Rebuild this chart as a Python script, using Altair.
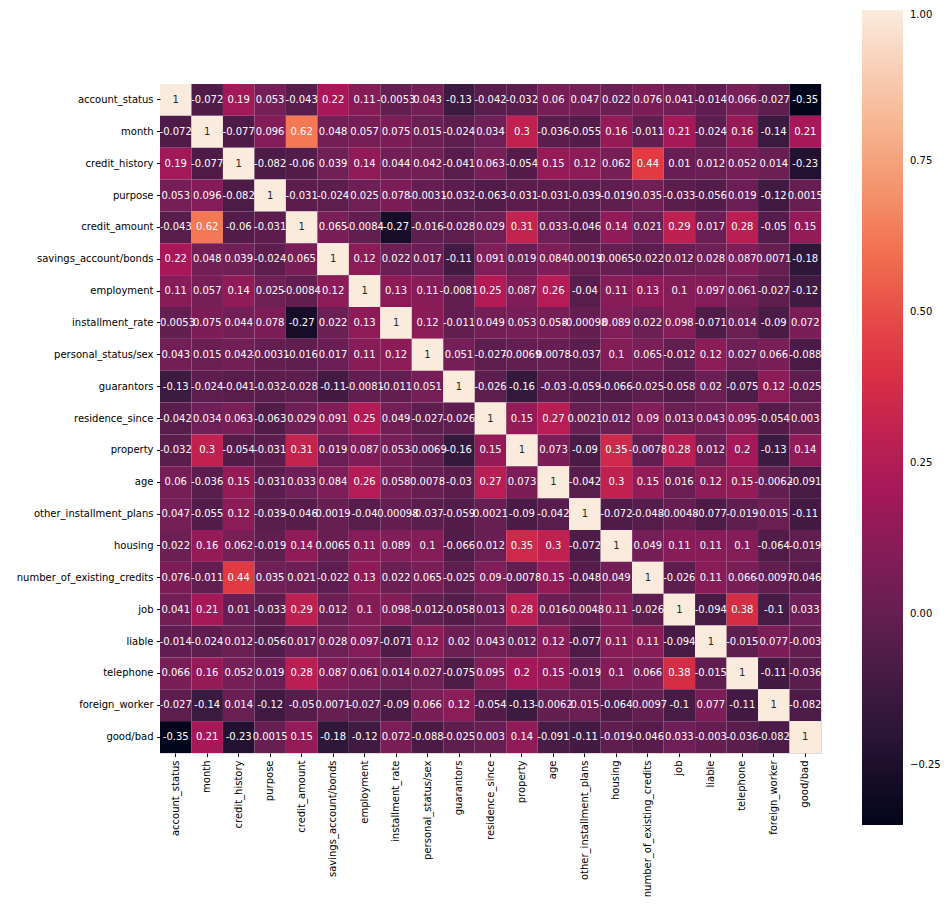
import altair as alt
import pandas as pd

labels = ["account_status", "month", "credit_history", "purpose", "credit_amount",
          "savings_account/bonds", "employment", "installment_rate", "personal_status/sex",
          "guarantors", "residence_since", "property", "age", "other_installment_plans",
          "housing", "number_of_existing_credits", "job", "liable", "telephone",
          "foreign_worker", "good/bad"]

corr = [
    [1, -0.072, 0.19, 0.053, -0.043, 0.22, 0.11, -0.0053, 0.043, -0.13, -0.042, -0.032, 0.06, 0.047, 0.022, 0.076, 0.041, -0.014, 0.066, -0.027, -0.35],
    [-0.072, 1, -0.077, 0.096, 0.62, 0.048, 0.057, 0.075, 0.015, -0.024, 0.034, 0.3, -0.036, -0.055, 0.16, -0.011, 0.21, -0.024, 0.16, -0.14, 0.21],
    [0.19, -0.077, 1, -0.082, -0.06, 0.039, 0.14, 0.044, 0.042, -0.041, 0.063, -0.054, 0.15, 0.12, 0.062, 0.44, 0.01, 0.012, 0.052, 0.014, -0.23],
    [0.053, 0.096, -0.082, 1, -0.031, -0.024, 0.025, 0.078, -0.0031, -0.032, -0.063, -0.031, -0.031, -0.039, -0.019, 0.035, -0.033, -0.056, 0.019, -0.12, 0.0015],
    [-0.043, 0.62, -0.06, -0.031, 1, 0.065, -0.0084, -0.27, -0.016, -0.028, 0.029, 0.31, 0.033, -0.046, 0.14, 0.021, 0.29, 0.017, 0.28, -0.05, 0.15],
    [0.22, 0.048, 0.039, -0.024, 0.065, 1, 0.12, 0.022, 0.017, -0.11, 0.091, 0.019, 0.084, 0.0019, 0.0065, -0.022, 0.012, 0.028, 0.087, 0.0071, -0.18],
    [0.11, 0.057, 0.14, 0.025, -0.0084, 0.12, 1, 0.13, 0.11, -0.0081, 0.25, 0.087, 0.26, -0.04, 0.11, 0.13, 0.1, 0.097, 0.061, -0.027, -0.12],
    [-0.0053, 0.075, 0.044, 0.078, -0.27, 0.022, 0.13, 1, 0.12, -0.011, 0.049, 0.053, 0.058, -0.00098, 0.089, 0.022, 0.098, -0.071, 0.014, -0.09, 0.072],
    [0.043, 0.015, 0.042, -0.0031, -0.016, 0.017, 0.11, 0.12, 1, 0.051, -0.027, -0.0069, 0.0078, -0.037, 0.1, 0.065, -0.012, 0.12, 0.027, 0.066, -0.088],
    [-0.13, -0.024, -0.041, -0.032, -0.028, -0.11, -0.0081, -0.011, 0.051, 1, -0.026, -0.16, -0.03, -0.059, -0.066, -0.025, -0.058, 0.02, -0.075, 0.12, -0.025],
    [-0.042, 0.034, 0.063, -0.063, 0.029, 0.091, 0.25, 0.049, -0.027, -0.026, 1, 0.15, 0.27, 0.0021, 0.012, 0.09, 0.013, 0.043, 0.095, -0.054, 0.003],
    [-0.032, 0.3, -0.054, -0.031, 0.31, 0.019, 0.087, 0.053, -0.0069, -0.16, 0.15, 1, 0.073, -0.09, 0.35, -0.0078, 0.28, 0.012, 0.2, -0.13, 0.14],
    [0.06, -0.036, 0.15, -0.031, 0.033, 0.084, 0.26, 0.058, 0.0078, -0.03, 0.27, 0.073, 1, -0.042, 0.3, 0.15, 0.016, 0.12, 0.15, -0.0062, -0.091],
    [0.047, -0.055, 0.12, -0.039, -0.046, 0.0019, -0.04, -0.00098, -0.037, -0.059, 0.0021, -0.09, -0.042, 1, -0.072, -0.048, -0.0048, -0.077, -0.019, 0.015, -0.11],
    [0.022, 0.16, 0.062, -0.019, 0.14, 0.0065, 0.11, 0.089, 0.1, -0.066, 0.012, 0.35, 0.3, -0.072, 1, 0.049, 0.11, 0.11, 0.1, -0.064, -0.019],
    [0.076, -0.011, 0.44, 0.035, 0.021, -0.022, 0.13, 0.022, 0.065, -0.025, 0.09, -0.0078, 0.15, -0.048, 0.049, 1, -0.026, 0.11, 0.066, -0.0097, -0.046],
    [0.041, 0.21, 0.01, -0.033, 0.29, 0.012, 0.1, 0.098, -0.012, -0.058, 0.013, 0.28, 0.016, -0.0048, 0.11, -0.026, 1, -0.094, 0.38, -0.1, 0.033],
    [-0.014, -0.024, 0.012, -0.056, 0.017, 0.028, 0.097, -0.071, 0.12, 0.02, 0.043, 0.012, 0.12, -0.077, 0.11, 0.11, -0.094, 1, -0.015, 0.077, -0.003],
    [0.066, 0.16, 0.052, 0.019, 0.28, 0.087, 0.061, 0.014, 0.027, -0.075, 0.095, 0.2, 0.15, -0.019, 0.1, 0.066, 0.38, -0.015, 1, -0.11, -0.036],
    [-0.027, -0.14, 0.014, -0.12, -0.05, 0.0071, -0.027, -0.09, 0.066, 0.12, -0.054, -0.13, -0.0062, 0.015, -0.064, -0.0097, -0.1, 0.077, -0.11, 1, -0.082],
    [-0.35, 0.21, -0.23, 0.0015, 0.15, -0.18, -0.12, 0.072, -0.088, -0.025, 0.003, 0.14, -0.091, -0.11, -0.019, -0.046, 0.033, -0.003, -0.036, -0.082, 1],
]

colorbar_ticks = [-0.25, 0.0, 0.25, 0.5, 0.75, 1.0]

# rocket colormap stops
rocket_pos = [0.0, 1/7, 2/7, 3/7, 4/7, 5/7, 6/7, 1.0]
rocket_col = ["#03051a", "#35193e", "#701f57", "#ad1759", "#e13342", "#f37651", "#f6b48f", "#faebdd"]
vmin, vmax = -0.35, 1.0
dom = [vmin + (vmax - vmin) * p for p in rocket_pos]

records = []
for i, rl in enumerate(labels):
    for j, cl in enumerate(labels):
        v = corr[i][j]
        records.append({"row": rl, "col": cl, "value": v, "txt": format(v, ".2g")})
df = pd.DataFrame(records)

FONT = "DejaVu Sans"

base = alt.Chart(df).encode(
    x=alt.X("col:N", sort=labels, title=None,
            scale=alt.Scale(paddingInner=0, paddingOuter=0),
            axis=alt.Axis(labelAngle=270, labelFont=FONT, labelFontSize=10, labelColor="#000000",
                          tickColor="#000000", tickSize=3.5, labelPadding=3.5, domain=False,
                          grid=False)),
    y=alt.Y("row:N", sort=labels, title=None,
            scale=alt.Scale(paddingInner=0, paddingOuter=0),
            axis=alt.Axis(labelFont=FONT, labelFontSize=10, labelColor="#000000",
                          tickColor="#000000", tickSize=3.5, labelPadding=3.5, domain=False,
                          grid=False)),
)

rects = base.mark_rect().encode(
    color=alt.Color("value:Q",
                    scale=alt.Scale(domain=dom, range=rocket_col, interpolate="rgb"),
                    legend=alt.Legend(orient="none", legendX=702, legendY=-74, title=None,
                                      direction="vertical", gradientLength=815,
                                      gradientThickness=41, gradientStrokeWidth=0,
                                      values=colorbar_ticks, format=".2f",
                                      labelFont=FONT, labelFontSize=10, labelColor="#000000",
                                      labelOffset=7)),
)

texts = base.mark_text(font=FONT, fontSize=10, align="center", baseline="middle").encode(
    text="txt:N",
    color=alt.condition(alt.datum.value >= 0.99, alt.value("#262626"), alt.value("#ffffff")),
)

chart = alt.layer(rects, texts).properties(
    width=661, height=669,
    autosize=alt.AutoSizeParams(type="none"),
    padding={"left": 160, "top": 84, "right": 127, "bottom": 152},
).configure_view(stroke=None).configure(background="white")

chart.save("out.html", embed_options={"renderer": "svg", "actions": False})
